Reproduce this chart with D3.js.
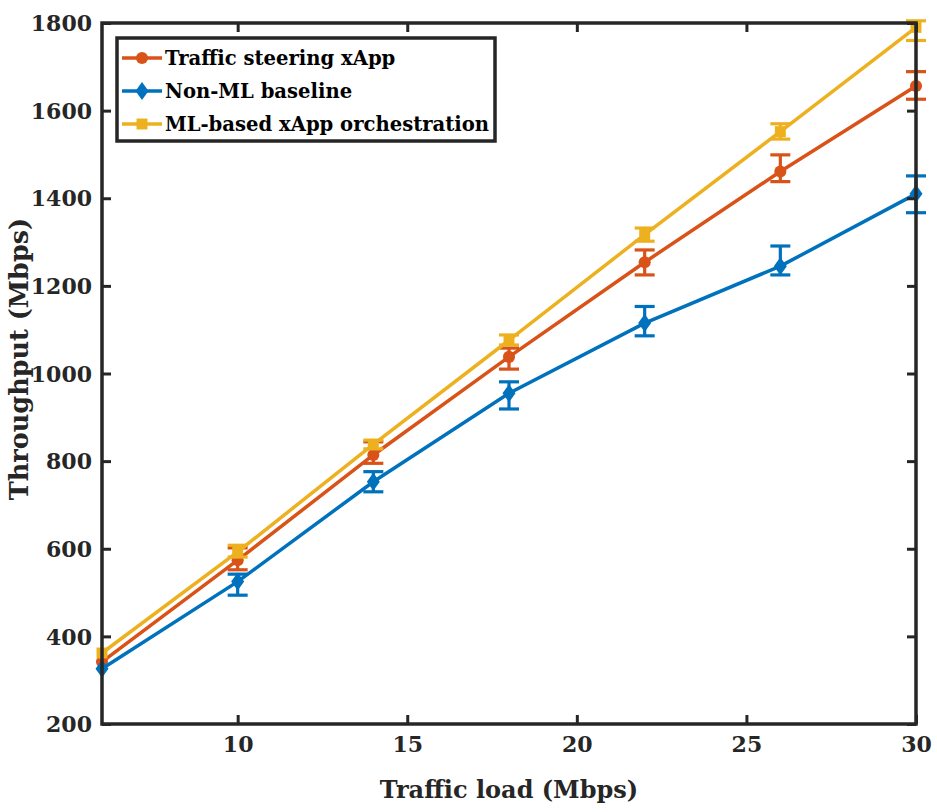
<!DOCTYPE html>
<html>
<head>
<meta charset="utf-8">
<script src="https://cdn.jsdelivr.net/npm/d3@7"></script>
<style>
  body { margin: 0; background: #fff; }
</style>
</head>
<body>
<svg id="chart" width="937" height="812"></svg>
<script>
// traffic load points (Mbps)
const loads = [6, 10, 14, 18, 22, 26, 30];

// throughput, with the lower / upper ends of each error bar
const steering = [342, 574, 814, 1038, 1254, 1461, 1656];
const steeringLo = [342, 552, 795, 1010, 1225, 1438, 1626];
const steeringHi = [342, 602, 844, 1058, 1282, 1499, 1689];

const baseline = [326, 525, 753, 955, 1115, 1245, 1410];
const baselineLo = [326, 494, 730, 919, 1086, 1225, 1367];
const baselineHi = [326, 542, 776, 981, 1153, 1291, 1451];

const orchestration = [362, 593, 838, 1076, 1317, 1552, 1790];
const orchestrationLo = [362, 581, 828, 1065, 1302, 1535, 1760];
const orchestrationHi = [362, 608, 848, 1088, 1332, 1570, 1805];

const xTicks = [10, 15, 20, 25, 30];
const yTicks = [200, 400, 600, 800, 1000, 1200, 1400, 1600, 1800];

const seriesNames = ["Traffic steering xApp", "Non-ML baseline", "ML-based xApp orchestration"];

const series = [
    {name: seriesNames[0], y: steering, lo: steeringLo, hi: steeringHi, color: "#D95319", marker: "circle"},
    {name: seriesNames[1], y: baseline, lo: baselineLo, hi: baselineHi, color: "#0072BD", marker: "diamond"},
    {name: seriesNames[2], y: orchestration, lo: orchestrationLo, hi: orchestrationHi, color: "#EDB120", marker: "square"}
];

const margin = {top: 23, right: 21, bottom: 88, left: 102};
const width = 937 - margin.left - margin.right;
const height = 812 - margin.top - margin.bottom;
const axisColor = "#262626";
const serif = "'DejaVu Serif', 'Times New Roman', serif";

const svg = d3.select("#chart");
const g = svg.append("g").attr("transform", `translate(${margin.left},${margin.top})`);

const x = d3.scaleLinear().domain([6, 30]).range([0, width]);
const y = d3.scaleLinear().domain([200, 1800]).range([height, 0]);

function markerPath(type) {
    switch (type) {
        case "circle":
            return d3.symbol(d3.symbolCircle, 115)();
        case "diamond":
            return "M0,-9L6.5,0L0,9L-6.5,0Z";
        case "square":
            return d3.symbol(d3.symbolSquare, 120)();
        default:
            return d3.symbol(d3.symbolCircle, 80)();
    }
}

// series: line, error bars, markers
series.forEach(s => {
    const pts = loads.map((l, i) => ({x: l, y: s.y[i], lo: s.lo[i], hi: s.hi[i]}));
    const sg = g.append("g");

    sg.append("path")
        .datum(pts)
        .attr("fill", "none")
        .attr("stroke", s.color)
        .attr("stroke-width", 3.5)
        .attr("d", d3.line().x(d => x(d.x)).y(d => y(d.y)));

    const bars = sg.selectAll("g.err")
        .data(pts.filter(d => d.hi > d.lo))
        .enter()
        .append("g")
        .attr("class", "err")
        .attr("stroke", s.color)
        .attr("stroke-width", 3.2);

    bars.append("line")
        .attr("x1", d => x(d.x)).attr("x2", d => x(d.x))
        .attr("y1", d => y(d.lo)).attr("y2", d => y(d.hi));
    bars.append("line")
        .attr("x1", d => x(d.x) - 10).attr("x2", d => x(d.x) + 10)
        .attr("y1", d => y(d.lo)).attr("y2", d => y(d.lo));
    bars.append("line")
        .attr("x1", d => x(d.x) - 10).attr("x2", d => x(d.x) + 10)
        .attr("y1", d => y(d.hi)).attr("y2", d => y(d.hi));

    sg.selectAll("path.mk")
        .data(pts)
        .enter()
        .append("path")
        .attr("class", "mk")
        .attr("d", markerPath(s.marker))
        .attr("transform", d => `translate(${x(d.x)},${y(d.y)})`)
        .attr("fill", s.color);
});

// axes with inward ticks on all four sides
const tickLen = 9;
const axisB = g.append("g").attr("transform", `translate(0,${height})`)
    .call(d3.axisBottom(x).tickValues(xTicks).tickSize(-tickLen).tickPadding(11));
const axisT = g.append("g")
    .call(d3.axisTop(x).tickValues(xTicks).tickSize(-tickLen).tickFormat(""));
const axisL = g.append("g")
    .call(d3.axisLeft(y).tickValues(yTicks).tickSize(-tickLen).tickPadding(10).tickFormat(d3.format("d")));
const axisR = g.append("g").attr("transform", `translate(${width},0)`)
    .call(d3.axisRight(y).tickValues(yTicks).tickSize(-tickLen).tickFormat(""));

[axisB, axisT, axisL, axisR].forEach(a => {
    a.select(".domain").remove();
    a.attr("font-family", null);
    a.selectAll(".tick line").attr("stroke", axisColor).attr("stroke-width", 3);
    a.selectAll(".tick text")
        .style("font-family", serif)
        .attr("font-size", 22)
        .attr("font-weight", "bold")
        .attr("fill", axisColor);
});
axisL.selectAll(".tick text").attr("dy", "0.35em");
axisB.selectAll(".tick text").attr("dy", "0.75em");

g.append("rect")
    .attr("width", width)
    .attr("height", height)
    .attr("fill", "none")
    .attr("stroke", axisColor)
    .attr("stroke-width", 3.5);

// axis labels
svg.append("text")
    .attr("x", 509)
    .attr("y", 798)
    .attr("text-anchor", "middle")
    .style("font-family", serif)
    .attr("font-size", 24)
    .attr("font-weight", "bold")
    .attr("fill", axisColor)
    .text("Traffic load (Mbps)");

svg.append("text")
    .attr("transform", `translate(28,359) rotate(-90)`)
    .attr("text-anchor", "middle")
    .style("font-family", serif)
    .attr("font-size", 25.5)
    .attr("font-weight", "bold")
    .attr("fill", axisColor)
    .text("Throughput (Mbps)");

// legend
const legend = g.append("g").attr("transform", "translate(15,15)");
legend.append("rect")
    .attr("width", 378)
    .attr("height", 103)
    .attr("fill", "#fff")
    .attr("stroke", axisColor)
    .attr("stroke-width", 3.5);

series.forEach((s, i) => {
    const row = legend.append("g").attr("transform", `translate(0,${20 + i * 33})`);
    row.append("line")
        .attr("x1", 5).attr("x2", 45)
        .attr("stroke", s.color)
        .attr("stroke-width", 3.5);
    row.append("path")
        .attr("d", markerPath(s.marker))
        .attr("transform", "translate(25,0)")
        .attr("fill", s.color);
    row.append("text")
        .attr("x", 48)
        .attr("dy", "0.35em")
        .style("font-family", serif)
        .attr("font-size", 19.6)
        .attr("font-weight", "bold")
        .attr("fill", "#000")
        .text(s.name);
});
</script>
</body>
</html>
